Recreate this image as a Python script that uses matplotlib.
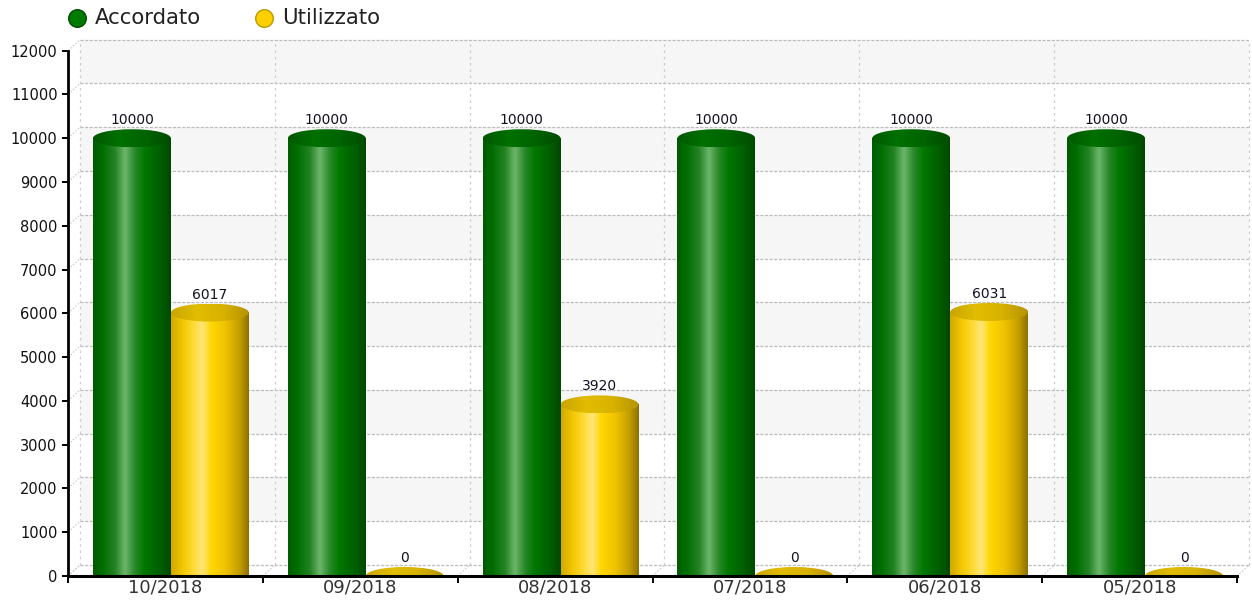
import matplotlib
matplotlib.use("Agg")
import matplotlib.pyplot as plt
import numpy as np
from matplotlib.colors import LinearSegmentedColormap
from matplotlib.patches import Ellipse, Rectangle

categories = ['10/2018', '09/2018', '08/2018', '07/2018', '06/2018', '05/2018']
accordato = [10000, 10000, 10000, 10000, 10000, 10000]
utilizzato = [6017, 0, 3920, 0, 6031, 0]
series_names = ['Accordato', 'Utilizzato']
yticks = list(range(0, 12001, 1000))

W, H = 1252, 608
fig = plt.figure(figsize=(W / 100, H / 100), dpi=100)
ax = fig.add_axes([68 / W, 32 / H, 1169 / W, 525.3 / H])
ax.set_xlim(0, len(categories))
ax.set_ylim(0, 12000)

# pixel -> data helpers for the fake 3d depth
px_x = len(categories) / 1169.0
px_y = 12000 / 525.3
dx = 12 * px_x
dy = 11 * px_y

# back wall: alternate bands + dashed grid
for k in range(0, 12):
    if k % 2 == 1:
        ax.add_patch(Rectangle((dx, k * 1000 + dy), len(categories), 1000,
                               facecolor='#f6f6f6', edgecolor='none',
                               clip_on=False, zorder=0))
for k in yticks:
    ax.plot([dx, len(categories) + dx], [k + dy, k + dy], color='#bdbdbd',
            lw=0.9, dashes=(2.5, 1.2), clip_on=False, zorder=1)
    ax.plot([0, dx], [k, k + dy], color='#cccccc', lw=0.8, dashes=(1.5, 1.5),
            clip_on=False, zorder=1)
for i in range(len(categories) + 1):
    ax.plot([i + dx, i + dx], [dy, 12000 + dy], color='#cccccc', lw=0.9,
            dashes=(2, 3), clip_on=False, zorder=1)
    ax.plot([i, i + dx], [0, dy], color='#cccccc', lw=0.8, dashes=(1.5, 1.5),
            clip_on=False, zorder=1)

green_cm = LinearSegmentedColormap.from_list('g', [
    (0.0, '#005c00'), (0.12, '#006e00'), (0.28, '#238323'), (0.41, '#6cb66c'),
    (0.54, '#278827'), (0.66, '#007800'), (0.85, '#006000'), (1.0, '#004800')])
yellow_cm = LinearSegmentedColormap.from_list('y', [
    (0.0, '#d2a800'), (0.15, '#f2c800'), (0.3, '#ffdc3a'), (0.4, '#ffe57a'),
    (0.52, '#ffd700'), (0.7, '#efc300'), (0.88, '#c49e00'), (1.0, '#8c7000')])
green_top = LinearSegmentedColormap.from_list('gt', ['#005800', '#007000', '#006400', '#004c00'])
yellow_top = LinearSegmentedColormap.from_list('yt', ['#c9a500', '#e2bd00', '#d8b200', '#b59300'])

grad = np.linspace(0, 1, 256).reshape(1, -1)
bar_w = 0.4
cap = 9 * px_y


def cylinder(x0, v, cm_body, cm_top):
    ax.imshow(grad, cmap=cm_body, extent=[x0, x0 + bar_w, 0, v],
              aspect='auto', interpolation='bicubic', zorder=3)
    e = Ellipse((x0 + bar_w / 2, v), bar_w, 2 * cap, facecolor='none',
                edgecolor='none', zorder=4)
    ax.add_patch(e)
    top = ax.imshow(grad, cmap=cm_top, extent=[x0, x0 + bar_w, v - cap, v + cap],
                    aspect='auto', interpolation='bicubic', zorder=4)
    top.set_clip_path(e)
    ax.text(x0 + bar_w / 2, v + cap + 5 * px_y, f'{v}', ha='center', va='baseline',
            fontsize=10, color='#111122', zorder=5)


for i in range(len(categories)):
    cylinder(i + 0.128, accordato[i], green_cm, green_top)
    cylinder(i + 0.528, utilizzato[i], yellow_cm, yellow_top)

ax.set_xlim(0, len(categories))
ax.set_ylim(0, 12000)

ax.spines['top'].set_visible(False)
ax.spines['right'].set_visible(False)
ax.spines['left'].set_linewidth(2)
ax.spines['bottom'].set_linewidth(2.2)
ax.spines['left'].set_zorder(6)
ax.spines['bottom'].set_zorder(6)
ax.patch.set_visible(False)

ax.set_yticks(yticks)
ax.set_yticklabels([str(t) for t in yticks], fontsize=10.5, color='#111111')
ax.tick_params(axis='y', length=4.5, width=1.4, pad=3)
ax.set_xticks(range(len(categories) + 1))
ax.set_xticklabels([])
ax.set_xticks(np.arange(len(categories)) + 0.5, minor=True)
ax.set_xticklabels(categories, minor=True, fontsize=13, color='#333333')
ax.tick_params(axis='x', which='major', length=5, width=1.4, direction='out')
ax.tick_params(axis='x', which='minor', length=0, pad=2)

# legend drawn in pixel space
lg = fig.add_axes([0, 0, 1, 1], zorder=10)
lg.set_xlim(0, W)
lg.set_ylim(H, 0)
lg.axis('off')
lg_colors = [('#007a00', '#004a00'), ('#ffd000', '#b89a00')]
lg_x = [77, 264]
for name, (fc, ec), x in zip(series_names, lg_colors, lg_x):
    lg.scatter([x], [17.5], s=160, color=fc, edgecolors=ec, linewidths=1)
    lg.text(x + 18, 18, name, fontsize=15.3, va='center', ha='left', color='#222222')

fig.savefig('out.png', dpi=100)
